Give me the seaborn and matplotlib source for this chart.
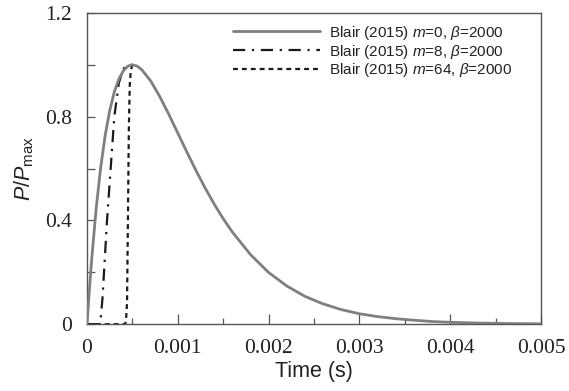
import matplotlib
matplotlib.use("Agg")
import matplotlib.pyplot as plt
import seaborn as sns
import pandas as pd
from matplotlib.ticker import FixedLocator, FixedFormatter

# ---- data ----
t_m0 = [0, 0.00002, 0.00005, 0.0001, 0.00015, 0.0002, 0.00025, 0.0003, 0.00035,
        0.0004, 0.00045, 0.0005, 0.00055, 0.0006, 0.0007, 0.0008, 0.0009, 0.001,
        0.0011, 0.0012, 0.0013, 0.0014, 0.0015, 0.0016, 0.0018, 0.002, 0.0022,
        0.0024, 0.0026, 0.0028, 0.003, 0.0032, 0.0034, 0.0036, 0.0038, 0.004,
        0.0043, 0.0046, 0.005]
p_m0 = [0, 0.104, 0.246, 0.445, 0.604, 0.729, 0.824, 0.895, 0.945,
        0.977, 0.995, 1.0, 0.995, 0.982, 0.938, 0.878, 0.809, 0.736,
        0.663, 0.592, 0.525, 0.463, 0.406, 0.355, 0.268, 0.199, 0.147,
        0.107, 0.078, 0.056, 0.040, 0.029, 0.021, 0.015, 0.010, 0.007,
        0.0043, 0.0025, 0.0012]

t_m8 = [0, 0.00013, 0.00015, 0.00017, 0.0002, 0.00022, 0.00025, 0.0003,
        0.00035, 0.0004, 0.00045, 0.0005]
p_m8 = [0, 0, 0.02, 0.1, 0.28, 0.4, 0.55, 0.8, 0.93, 0.985, 0.998, 1.0]

t_m64 = [0, 0.00042, 0.00043, 0.00044, 0.00045, 0.00046, 0.00047, 0.00048,
         0.00049, 0.0005]
p_m64 = [0, 0, 0.02, 0.08, 0.4, 0.75, 0.92, 0.97, 0.99, 1.0]

labels = [r"Blair (2015) $m$=0, $\beta$=2000",
          r"Blair (2015) $m$=8, $\beta$=2000",
          r"Blair (2015) $m$=64, $\beta$=2000"]

x_ticks = [0, 0.001, 0.002, 0.003, 0.004, 0.005]
x_ticklabels = ["0", "0.001", "0.002", "0.003", "0.004", "0.005"]
y_ticks = [0, 0.4, 0.8, 1.2]
y_ticklabels = ["0", "0.4", "0.8", "1.2"]

# ---- style ----
sns.set_style("ticks")
plt.rcParams["font.family"] = ["Liberation Sans", "DejaVu Sans"]
plt.rcParams["mathtext.fontset"] = "custom"
plt.rcParams["mathtext.rm"] = "Liberation Sans"
plt.rcParams["mathtext.it"] = "Liberation Sans:italic"
plt.rcParams["mathtext.bf"] = "Liberation Sans:bold"

fig = plt.figure(figsize=(5.69, 3.91), dpi=100)
ax = fig.add_axes([0.153, 0.171, 0.798, 0.796])

df0 = pd.DataFrame({"t": t_m0, "p": p_m0})
df8 = pd.DataFrame({"t": t_m8, "p": p_m8})
df64 = pd.DataFrame({"t": t_m64, "p": p_m64})

sns.lineplot(data=df0, x="t", y="p", ax=ax, color="#7f7f7f", lw=2.0,
             label=labels[0], zorder=3)
sns.lineplot(data=df8, x="t", y="p", ax=ax, color="#1a1a1a", lw=1.6,
             label=labels[1], zorder=2)
sns.lineplot(data=df64, x="t", y="p", ax=ax, color="#1a1a1a", lw=1.6,
             label=labels[2], zorder=2)
lines = ax.get_lines()
lines[1].set_dashes([5.5, 3, 1, 3])
lines[2].set_dashes([2.2, 1.8])

ax.set_xlim(0, 0.005)
ax.set_ylim(0, 1.2)

ax.xaxis.set_major_locator(FixedLocator(x_ticks))
ax.xaxis.set_major_formatter(FixedFormatter(x_ticklabels))
ax.xaxis.set_minor_locator(FixedLocator([0.0005, 0.0015, 0.0025, 0.0035, 0.0045]))
ax.yaxis.set_major_locator(FixedLocator(y_ticks))
ax.yaxis.set_major_formatter(FixedFormatter(y_ticklabels))
ax.yaxis.set_minor_locator(FixedLocator([0.2, 0.6, 1.0]))

ax.tick_params(axis="both", which="both", direction="in", color="#555555",
               width=0.9, top=False, right=False)
ax.tick_params(axis="x", which="major", length=7, pad=11)
ax.tick_params(axis="x", which="minor", length=4)
ax.tick_params(axis="y", which="both", length=6, pad=11)
for lab in ax.get_xticklabels() + ax.get_yticklabels():
    lab.set_fontfamily("Liberation Serif")
    lab.set_fontsize(15.5)
    lab.set_color("#222222")

for s in ax.spines.values():
    s.set_visible(True)
    s.set_color("#555555")
    s.set_linewidth(1.0)

ax.set_xlabel("Time (s)", fontsize=15.5, color="#222222", labelpad=2)
ax.set_ylabel(r"$\mathit{P}/\mathit{P}_{\mathrm{max}}$", fontsize=15.5,
              color="#222222", labelpad=6)

leg = ax.legend(loc="upper right", bbox_to_anchor=(0.935, 0.965), frameon=False,
                fontsize=11, handlelength=5.7, handletextpad=0.55,
                labelspacing=0.05, borderaxespad=0, borderpad=0)
for txt in leg.get_texts():
    txt.set_color("#222222")

fig.savefig("out.png", dpi=100)
